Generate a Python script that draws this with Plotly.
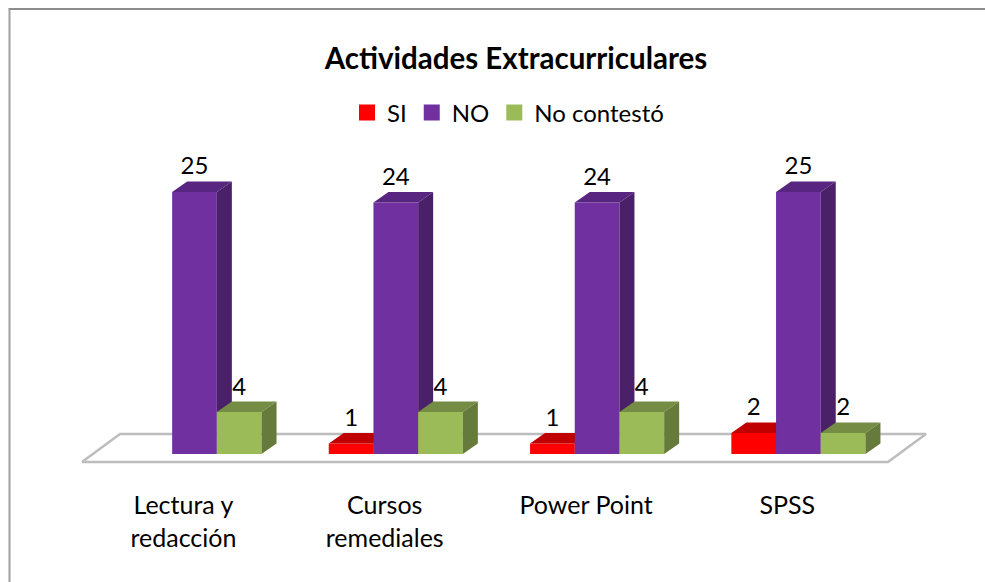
import plotly.graph_objects as go

# ---- data ----
categories = ["Lectura y<br>redacción", "Cursos<br>remediales", "Power Point", "SPSS"]
si = [None, 1, 1, 2]
no = [25, 24, 24, 25]
no_contesto = [4, 4, 4, 2]
title_text = "Actividades Extracurriculares"
series_names = ["SI", "NO", "No contestó"]

# ---- style / geometry ----
W, H = 985, 582
M_BOTTOM = 101
PLOT_H = H - M_BOTTOM
GROUP_PX = 201.3
FIRST_PX = 194.5
BASE_PX = 454
UNIT_PX = 10.48
X_RANGE = [-FIRST_PX / GROUP_PX, (W - FIRST_PX) / GROUP_PX]
Y_RANGE = [(BASE_PX - PLOT_H) / UNIT_PX, BASE_PX / UNIT_PX]
BAR_W = 44.7 / GROUP_PX
DEPTH_X = 15 / GROUP_PX
DEPTH_Y = 1.0
LABEL_GAP = 2.25
TICK_SHIFT = 0.055
FONT = "Lato"
TICK_SIZE = 25

front = ["#FF0000", "#7030A0", "#9BBB59"]
top_c = ["#C00000", "#582680", "#748C43"]
side_c = ["#A80000", "#4A2069", "#667B3B"]

fig = go.Figure()

# floor (lowest layer)
fl = -0.559
fr = 3.445
fd = 38 / GROUP_PX
f_front = -8 / UNIT_PX
f_back = 20 / UNIT_PX
fig.add_trace(go.Scatter(
    x=[fl, fl + fd, fr + fd, fr, fl],
    y=[f_front, f_back, f_back, f_front, f_front],
    mode="lines", line=dict(color="#BDBDBD", width=2.5),
    fill="toself", fillcolor="#FFFFFF", showlegend=False, hoverinfo="skip",
    xaxis="x", yaxis="y"))

label_x, label_y, label_t = [], [], []
for s, values in enumerate([si, no, no_contesto]):
    xa, ya = f"x{s + 2}", f"y{s + 2}"
    offset = (s - 1) * BAR_W
    xs = [i + offset for i in range(len(values))]
    fig.add_trace(go.Bar(
        x=xs, y=values, width=BAR_W, marker=dict(color=front[s], line=dict(width=0)),
        name=series_names[s], showlegend=False, xaxis=xa, yaxis=ya))
    tx, ty, sx, sy = [], [], [], []
    for x, v in zip(xs, values):
        if v is None:
            continue
        l, r = x - BAR_W / 2, x + BAR_W / 2
        tx += [l, l + DEPTH_X, r + DEPTH_X, r, l, None]
        ty += [v, v + DEPTH_Y, v + DEPTH_Y, v, v, None]
        sx += [r, r + DEPTH_X, r + DEPTH_X, r, r, None]
        sy += [0, DEPTH_Y, v + DEPTH_Y, v, 0, None]
        label_x.append(x)
        label_y.append(v + LABEL_GAP)
        label_t.append(str(v))
    for px_, py_, col in ((tx, ty, top_c[s]), (sx, sy, side_c[s])):
        fig.add_trace(go.Scatter(
            x=px_, y=py_, mode="lines", line=dict(width=0), fill="toself",
            fillcolor=col, showlegend=False, hoverinfo="skip", xaxis=xa, yaxis=ya))

# data labels on the top layer
fig.add_trace(go.Scatter(
    x=label_x, y=label_y, text=label_t, mode="text",
    textfont=dict(family=FONT, size=24, color="#000000"),
    textposition="middle center", showlegend=False, hoverinfo="skip",
    xaxis="x4", yaxis="y4"))

# legend keys
for s, name in enumerate(series_names):
    fig.add_trace(go.Scatter(
        x=[None], y=[None], mode="markers", name=name,
        marker=dict(symbol="square", size=16, color=front[s]),
        xaxis="x4", yaxis="y4"))

layout = dict(
    width=W, height=H,
    autosize=False,
    margin=dict(l=0, r=0, t=0, b=M_BOTTOM),
    paper_bgcolor="#FFFFFF", plot_bgcolor="rgba(0,0,0,0)",
    barmode="overlay",
    font=dict(family=FONT, color="#000000"),
    title=dict(text=f"<b>{title_text}</b>", x=516 / W, xanchor="center",
               y=1 - 59 / H, yanchor="middle", font=dict(family=FONT, size=29.5)),
    legend=dict(orientation="h", x=508 / W, xanchor="center", y=1 - 113 / PLOT_H, yanchor="middle",
                font=dict(family=FONT, size=24), bgcolor="rgba(0,0,0,0)", itemclick=False,
                itemsizing="trace"),
    xaxis=dict(range=X_RANGE, showgrid=False, zeroline=False, showline=False,
               tickmode="array", tickvals=[i - TICK_SHIFT for i in range(len(categories))],
               ticktext=categories, ticks="outside", ticklen=2, tickcolor="rgba(0,0,0,0)",
               tickfont=dict(family=FONT, size=TICK_SIZE), tickangle=0),
    yaxis=dict(range=Y_RANGE, visible=False, showgrid=False, zeroline=False),
    shapes=[
        dict(type="line", xref="paper", yref="paper", layer="below",
             x0=8.5 / W, x1=1, y0=1 - 9 / PLOT_H, y1=1 - 9 / PLOT_H,
             line=dict(color="#8C8C8C", width=2)),
        dict(type="line", xref="paper", yref="paper", layer="below",
             x0=9.5 / W, x1=9.5 / W, y0=-(H - PLOT_H) / PLOT_H, y1=1 - 9 / PLOT_H,
             line=dict(color="#A0A0A0", width=2)),
    ],
)
for n in (2, 3, 4):
    layout[f"xaxis{n}"] = dict(range=X_RANGE, visible=False, overlaying="x", anchor=f"y{n}")
    layout[f"yaxis{n}"] = dict(range=Y_RANGE, visible=False, overlaying="y", anchor=f"x{n}")
fig.update_layout(**layout)

fig.write_html("out.html", config={"displayModeBar": False},
               post_script="document.body.style.margin='0';document.body.style.overflow='hidden';")
